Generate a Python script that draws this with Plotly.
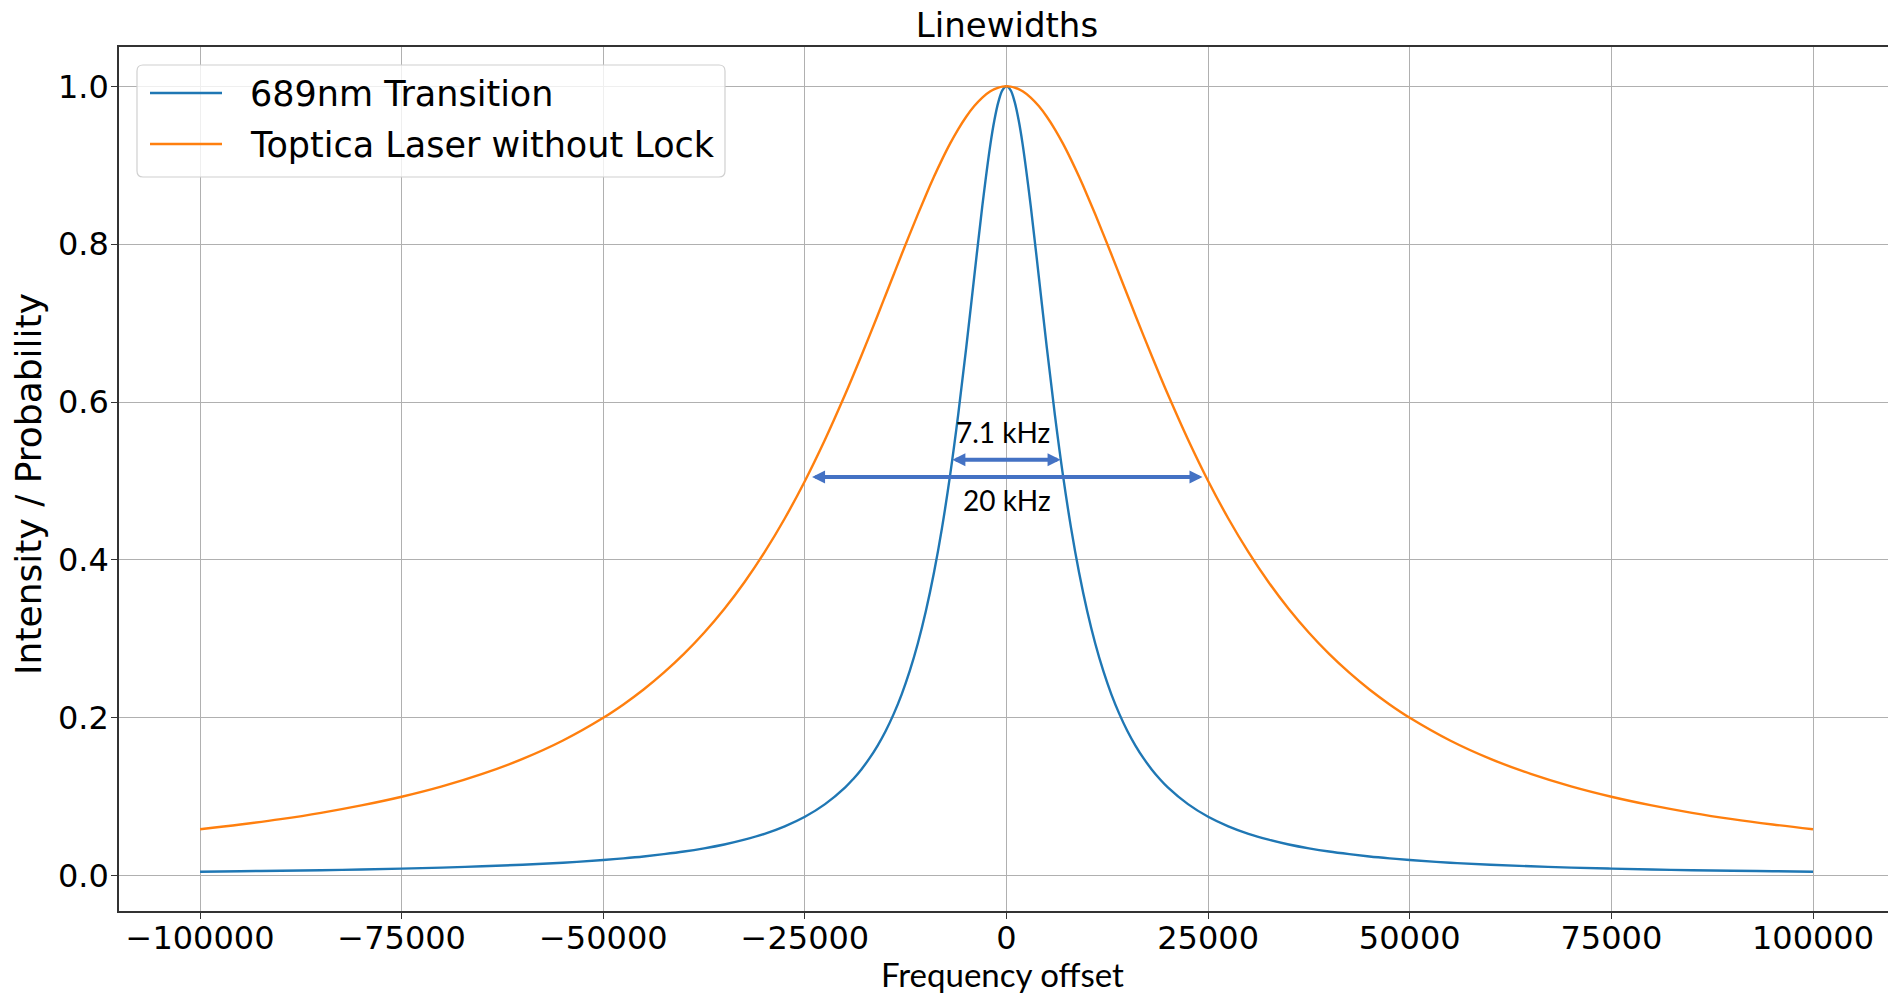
import plotly.graph_objects as go

freq = [-100000, -95000, -90000, -85000, -80000, -75000, -70000, -65000, -60000, -55000,
        -50000, -47500, -45000, -42500, -40000, -37500, -35000, -32500, -30000, -27500,
        -25000, -22500, -20000, -19000, -18000, -17000, -16000, -15000, -14000, -13000,
        -12000, -11000, -10000, -9000, -8000, -7000, -6000, -5000, -4000, -3000,
        -2000, -1500, -1000, -500,
        0,
        500, 1000, 1500, 2000,
        3000, 4000, 5000, 6000, 7000, 8000, 9000, 10000, 11000, 12000,
        13000, 14000, 15000, 16000, 17000, 18000, 19000, 20000, 22500, 25000,
        27500, 30000, 32500, 35000, 37500, 40000, 42500, 45000, 47500, 50000,
        55000, 60000, 65000, 70000, 75000, 80000, 85000, 90000, 95000, 100000]

# 689nm Transition (blue)
transition = [0.0050, 0.0056, 0.0062, 0.0069, 0.0078, 0.0089, 0.0102, 0.0118, 0.0138, 0.0164,
              0.0198, 0.0219, 0.0243, 0.0272, 0.0305, 0.0346, 0.0395, 0.0456, 0.0530, 0.0625,
              0.0746, 0.0906, 0.1119, 0.1225, 0.1346, 0.1485, 0.1645, 0.1830, 0.2046, 0.2297,
              0.2593, 0.2941, 0.3352, 0.3836, 0.4406, 0.5071, 0.5834, 0.6685, 0.7591, 0.8485,
              0.9265, 0.9573, 0.9805, 0.9951,
              1.0000,
              0.9951, 0.9805, 0.9573, 0.9265,
              0.8485, 0.7591, 0.6685, 0.5834, 0.5071, 0.4406, 0.3836, 0.3352, 0.2941, 0.2593,
              0.2297, 0.2046, 0.1830, 0.1645, 0.1485, 0.1346, 0.1225, 0.1119, 0.0906, 0.0746,
              0.0625, 0.0530, 0.0456, 0.0395, 0.0346, 0.0305, 0.0272, 0.0243, 0.0219, 0.0198,
              0.0164, 0.0138, 0.0118, 0.0102, 0.0089, 0.0078, 0.0069, 0.0062, 0.0056, 0.0050]

# Toptica Laser without Lock (orange)
laser = [0.0588, 0.0648, 0.0716, 0.0796, 0.0890, 0.1000, 0.1131, 0.1289, 0.1479, 0.1712,
         0.2000, 0.2169, 0.2358, 0.2571, 0.2809, 0.3077, 0.3378, 0.3717, 0.4098, 0.4525,
         0.5000, 0.5525, 0.6098, 0.6339, 0.6586, 0.6838, 0.7094, 0.7353, 0.7613, 0.7872,
         0.8127, 0.8378, 0.8621, 0.8853, 0.9071, 0.9273, 0.9455, 0.9615, 0.9750, 0.9858,
         0.9936, 0.9964, 0.9984, 0.9996,
         1.0000,
         0.9996, 0.9984, 0.9964, 0.9936,
         0.9858, 0.9750, 0.9615, 0.9455, 0.9273, 0.9071, 0.8853, 0.8621, 0.8378, 0.8127,
         0.7872, 0.7613, 0.7353, 0.7094, 0.6838, 0.6586, 0.6339, 0.6098, 0.5525, 0.5000,
         0.4525, 0.4098, 0.3717, 0.3378, 0.3077, 0.2809, 0.2571, 0.2358, 0.2169, 0.2000,
         0.1712, 0.1479, 0.1289, 0.1131, 0.1000, 0.0890, 0.0796, 0.0716, 0.0648, 0.0588]

series_names = ["689nm Transition", "Toptica Laser without Lock"]
series_colors = ["#1f77b4", "#ff7f0e"]

x_ticks = [-100000, -75000, -50000, -25000, 0, 25000, 50000, 75000, 100000]
x_tick_text = ["\u2212100000", "\u221275000", "\u221250000", "\u221225000", "0",
               "25000", "50000", "75000", "100000"]
y_ticks = [0.0, 0.2, 0.4, 0.6, 0.8, 1.0]
y_tick_text = ["0.0", "0.2", "0.4", "0.6", "0.8", "1.0"]

# Width markers: (label, start, end, arrow height, label x, label height)
widths = [
    ("7.1 kHz", -6900, 6700, 0.527, -450, 0.562),
    ("20 kHz", -24300, 24300, 0.505, 0, 0.476),
]

ARROW = "#4472C4"
DJ = "DejaVu Sans"

# plot-area geometry in pixels (used to place the hand-drawn legend)
W, H = 1888, 993
L, R, T, B = 119, 0, 47, 82
PW, PH = W - L - R, H - T - B


def px_x(p):
    return (p - L) / PW


def px_y(p):
    return (H - B - p) / PH


fig = go.Figure()
for ys, nm, col in zip([transition, laser], series_names, series_colors):
    fig.add_trace(go.Scatter(x=freq, y=ys, mode="lines", name=nm, showlegend=False,
                             line=dict(color=col, width=2.4, shape="spline", smoothing=1.0)))

annotations = []
for label, x0, x1, ya, xt, yt in widths:
    annotations.append(dict(x=x1, y=ya, ax=x0, ay=ya, xref="x", yref="y", axref="x", ayref="y",
                            text="", showarrow=True, arrowhead=2, startarrowhead=2,
                            arrowside="end+start", arrowsize=0.65, startarrowsize=0.65,
                            arrowwidth=4, arrowcolor=ARROW))
    annotations.append(dict(x=xt, y=yt, xref="x", yref="y", text=label, showarrow=False,
                            font=dict(family="Lato", size=28, color="#000000"),
                            xanchor="center", yanchor="middle"))

# axis titles
annotations.append(dict(x=px_x(1002), y=px_y(974), xref="paper", yref="paper",
                        text="Frequency offset", showarrow=False,
                        font=dict(family="Lato", size=33, color="#000000"),
                        xanchor="center", yanchor="middle"))
annotations.append(dict(x=px_x(29), y=px_y(484), xref="paper", yref="paper",
                        text="Intensity / Probability", showarrow=False, textangle=-90,
                        font=dict(family=DJ, size=36, color="#000000"),
                        xanchor="center", yanchor="middle"))

# legend (drawn by hand to match the reference's layout)
shapes = []
bx0, bx1, by0, by1 = 137, 725, 65, 177
rad = 6
rx, ry = rad / PW, rad / PH
X0, X1, Y0, Y1 = px_x(bx0), px_x(bx1), px_y(by1), px_y(by0)
path = (f"M {X0 + rx},{Y0} L {X1 - rx},{Y0} Q {X1},{Y0} {X1},{Y0 + ry} "
        f"L {X1},{Y1 - ry} Q {X1},{Y1} {X1 - rx},{Y1} L {X0 + rx},{Y1} "
        f"Q {X0},{Y1} {X0},{Y1 - ry} L {X0},{Y0 + ry} Q {X0},{Y0} {X0 + rx},{Y0} Z")
shapes.append(dict(type="path", xref="paper", yref="paper", path=path,
                   fillcolor="rgba(255,255,255,0.8)", line=dict(color="#d0d0d0", width=1.2),
                   layer="above"))
for nm, col, rowy in zip(series_names, series_colors, [93, 144]):
    shapes.append(dict(type="line", xref="paper", yref="paper",
                       x0=px_x(150), x1=px_x(222), y0=px_y(rowy), y1=px_y(rowy),
                       line=dict(color=col, width=2.6), layer="above"))
    annotations.append(dict(x=px_x(248), y=px_y(rowy + 1), xref="paper", yref="paper",
                            text=nm, showarrow=False, xanchor="left", yanchor="middle",
                            font=dict(family=DJ, size=35, color="#000000")))

fig.update_layout(
    width=W, height=H,
    margin=dict(l=L, r=R, t=T, b=B),
    paper_bgcolor="white", plot_bgcolor="white",
    title=dict(text="Linewidths", x=1007 / W, xanchor="center", xref="container",
               y=1 - 25 / H, yanchor="middle", yref="container",
               font=dict(family=DJ, size=34, color="#000000")),
    font=dict(family=DJ, color="#000000"),
    showlegend=False,
    annotations=annotations,
    shapes=shapes,
)

fig.update_xaxes(range=[-110050, 109300], tickvals=x_ticks, ticktext=x_tick_text,
                 tickfont=dict(family=DJ, size=32, color="#000000"),
                 ticklabelstandoff=-8,
                 showgrid=True, gridcolor="#b0b0b0", gridwidth=1,
                 zeroline=False, showline=True, linecolor="#333333", linewidth=1.5,
                 mirror=True, ticks="outside", ticklen=6, tickcolor="#333333")
fig.update_yaxes(range=[-0.0448, 1.0498], tickvals=y_ticks, ticktext=y_tick_text,
                 tickfont=dict(family=DJ, size=32, color="#000000"),
                 ticklabelstandoff=-4,
                 showgrid=True, gridcolor="#b0b0b0", gridwidth=1,
                 zeroline=False, showline=True, linecolor="#333333", linewidth=1.5,
                 mirror=False, ticks="outside", ticklen=6, tickcolor="#333333")

fig.write_html("out.html")
